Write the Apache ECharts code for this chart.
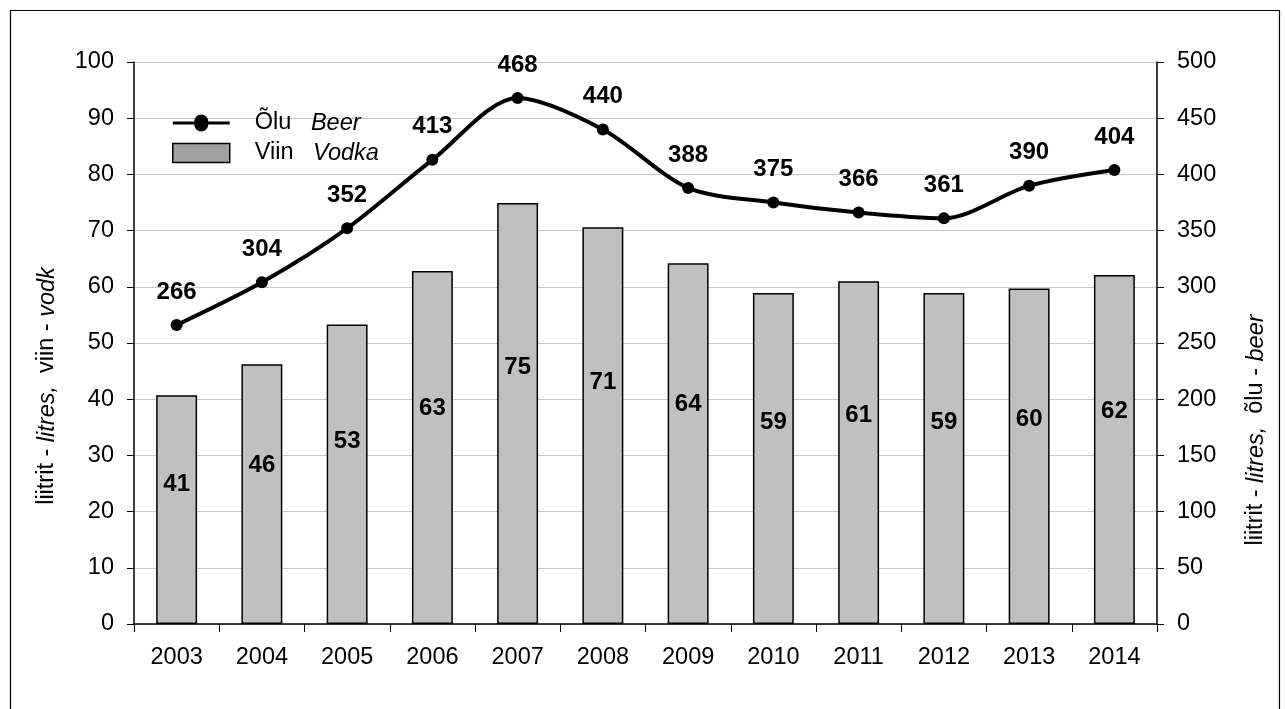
<!DOCTYPE html>
<html><head><meta charset="utf-8">
<script src="https://cdn.jsdelivr.net/npm/echarts@6/dist/echarts.min.js"></script>
<style>html,body{margin:0;padding:0;background:#fff;}#c{width:1285px;height:709px;}</style>
</head><body><div id="c"></div>
<script>
const years = ['2003','2004','2005','2006','2007','2008','2009','2010','2011','2012','2013','2014'];
const vodka = [40.7, 46.2, 53.3, 62.8, 74.9, 70.6, 64.2, 58.9, 61.0, 58.9, 59.7, 62.1];
const beer = [266, 304, 352, 413, 468, 440, 388, 375, 366, 361, 390, 404];
const leftTicks = {min: 0, max: 100, interval: 10};
const rightTicks = {min: 0, max: 500, interval: 50};

const FONT = 'Liberation Sans, Arial, sans-serif';
const FS = 23.5;
const chart = echarts.init(document.getElementById('c'));
chart.setOption({
  animation: false,
  backgroundColor: '#fff',
  textStyle: {fontFamily: FONT, color: '#000'},
  grid: {left: 134, right: 128, top: 62, bottom: 85},
  legend: {
    orient: 'vertical', left: 167, top: 106, itemWidth: 57, itemHeight: 19, itemGap: 6,
    textStyle: {fontFamily: FONT, fontSize: FS, color: '#000', padding: [0,0,0,20],
      rich: {a: {fontSize: FS, fontFamily: FONT}, b: {fontSize: FS, fontFamily: FONT, fontStyle: 'italic'}}},
    formatter: function (n) { return n === 'beer' ? '{a|Õlu}   {b|Beer}' : '{a|Viin}   {b|Vodka}'; },
    data: [
      {name: 'beer', icon: 'path://M0,8.5L21.5,8.5A7,7 0 1 1 35.5,8.5L57,8.5L57,11.5L35.5,11.5A7,7 0 1 1 21.5,11.5L0,11.5Z', itemStyle: {color: '#000', borderWidth: 0}},
      {name: 'vodka', icon: 'rect', itemStyle: {color: '#a0a0a0', borderColor: '#000', borderWidth: 1.5}}
    ]
  },
  xAxis: {
    type: 'category', data: years,
    axisLine: {lineStyle: {color: '#000', width: 1.5}},
    axisTick: {show: true, alignWithLabel: false, length: 8, inside: false, lineStyle: {color: '#000'}},
    axisLabel: {fontSize: FS, color: '#000', margin: 22, fontFamily: FONT},
    splitLine: {show: false}
  },
  yAxis: [
    {type: 'value', min: leftTicks.min, max: leftTicks.max, interval: leftTicks.interval,
      axisLine: {show: true, lineStyle: {color: '#000', width: 1.5}},
      axisTick: {show: true, length: 7, lineStyle: {color: '#000'}},
      axisLabel: {fontSize: FS, color: '#000', margin: 20, fontFamily: FONT},
      splitLine: {show: true, lineStyle: {color: '#c8c8c8', width: 1}}},
    {type: 'value', min: rightTicks.min, max: rightTicks.max, interval: rightTicks.interval, position: 'right',
      axisLine: {show: true, lineStyle: {color: '#000', width: 1.5}},
      axisTick: {show: true, length: 7, lineStyle: {color: '#000'}},
      axisLabel: {fontSize: FS, color: '#000', margin: 20, fontFamily: FONT},
      splitLine: {show: false}}
  ],
  graphic: [
    {type: 'rect', left: 8, top: 8, shape: {width: 1269, height: 720}, style: {fill: 'none', stroke: '#000', lineWidth: 1.2}, silent: true},
    {type: 'text', x: 47, y: 386, rotation: Math.PI / 2,
      style: {text: '{a|liitrit - }{b|litres,}{a|  viin - }{b|vodk}', align: 'center', verticalAlign: 'middle',
        rich: {a: {fontSize: FS, fontFamily: FONT, fill: '#000'}, b: {fontSize: FS, fontFamily: FONT, fontStyle: 'italic', fill: '#000'}}}},
    {type: 'text', x: 1256, y: 430, rotation: Math.PI / 2,
      style: {text: '{a|liitrit - }{b|litres,}{a|  õlu - }{b|beer}', align: 'center', verticalAlign: 'middle',
        rich: {a: {fontSize: FS, fontFamily: FONT, fill: '#000'}, b: {fontSize: FS, fontFamily: FONT, fontStyle: 'italic', fill: '#000'}}}}
  ],
  series: [
    {name: 'vodka', type: 'bar', yAxisIndex: 0, data: vodka, barWidth: '48%',
      itemStyle: {color: '#c0c0c0', borderColor: '#000', borderWidth: 1.5},
      label: {show: true, position: ['50%', '39%'], align: 'center', verticalAlign: 'middle',
        fontSize: 24, fontWeight: 'bold', color: '#000', fontFamily: FONT,
        formatter: function (p) { return Math.round(p.value); }}},
    {name: 'beer', type: 'line', yAxisIndex: 1, data: beer, smooth: 0.3,
      symbol: 'circle', symbolSize: 12,
      lineStyle: {color: '#000', width: 4}, itemStyle: {color: '#000'},
      label: {show: true, position: 'top', distance: 15, fontSize: 24, fontWeight: 'bold', color: '#000', fontFamily: FONT}}
  ]
});
</script></body></html>
